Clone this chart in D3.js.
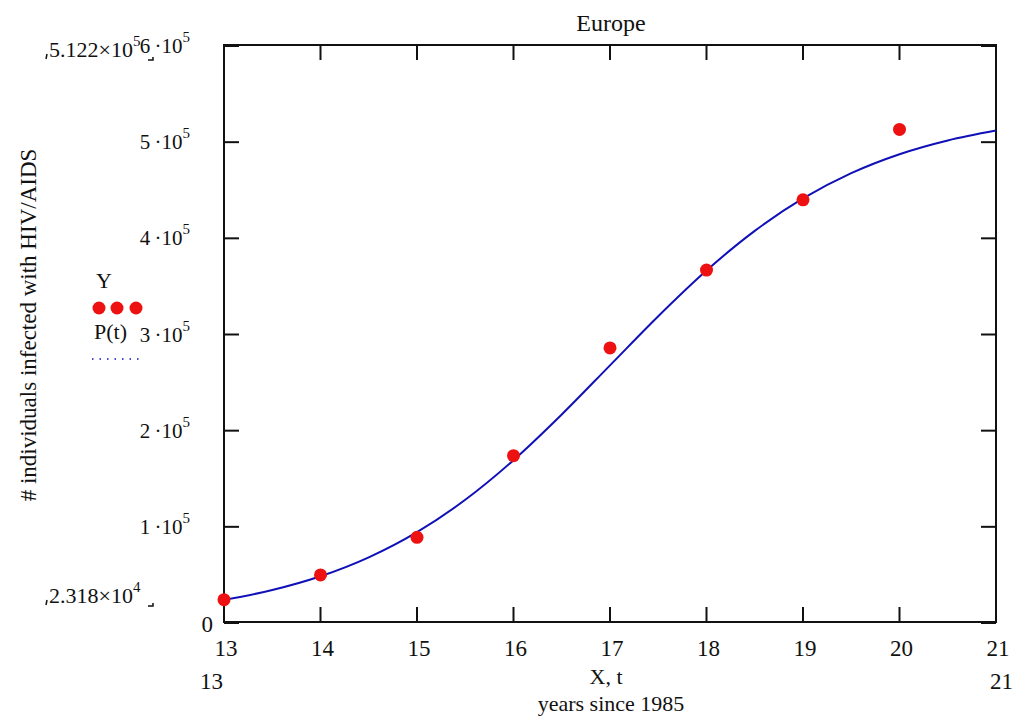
<!DOCTYPE html>
<html><head><meta charset="utf-8">
<script src="https://cdn.jsdelivr.net/npm/d3@7"></script>
<style>body{margin:0;background:#fff}svg{display:block}text{font-family:"Liberation Serif","Times New Roman",serif;fill:#111}</style>
</head><body>
<script>
// Observed data (years since 1985, infected individuals)
const years = [13, 14, 15, 16, 17, 18, 19, 20];
const infected = [23180, 49000, 88000, 173000, 285000, 366000, 439000, 512200];
// Fitted curve P(t) at half-year steps
const curveT = [13, 13.5, 14, 14.5, 15, 15.5, 16, 16.5, 17, 17.5, 18, 18.5, 19, 19.5, 20, 20.5, 21];
const curveP = [23000, 33200, 47500, 67200, 93400, 127100, 168300, 215800, 266900, 318000, 365500, 406700, 440400, 466700, 486400, 500700, 511000];
const xTicks = [13, 14, 15, 16, 17, 18, 19, 20, 21];
const yTicks = [0, 100000, 200000, 300000, 400000, 500000, 600000];
const yTickMant = ["0", "1", "2", "3", "4", "5", "6"];
const title = "Europe";
const yLabel = "# individuals infected with HIV/AIDS";
const xLabel = "X, t";
const xSub = "years since 1985";
const yMaxLabel = ["5.122\u00d710", "5"];
const yMinLabel = ["2.318\u00d710", "4"];
const legendNames = ["Y", "P(t)"];

const W = 1014, H = 723;
const svg = d3.select("body").append("svg").attr("width", W).attr("height", H);
const x = d3.scaleLinear().domain([13, 21]).range([224, 996]);
const y = d3.scaleLinear().domain([0, 600000]).range([622, 45]);
const ink = "#111";

// ticks (inward on all four sides)
const g = svg.append("g");
const tl = 15;
g.selectAll(".tb").data(xTicks).join("line")
  .attr("x1", d => x(d)).attr("x2", d => x(d)).attr("y1", y(0)).attr("y2", y(0) - tl)
  .attr("stroke", ink).attr("stroke-width", 2);
g.selectAll(".tt").data(xTicks).join("line")
  .attr("x1", d => x(d)).attr("x2", d => x(d)).attr("y1", y(600000)).attr("y2", y(600000) + tl)
  .attr("stroke", ink).attr("stroke-width", 2);
g.selectAll(".tlft").data(yTicks).join("line")
  .attr("x1", x(13)).attr("x2", x(13) + tl).attr("y1", d => y(d) + 1).attr("y2", d => y(d) + 1)
  .attr("stroke", ink).attr("stroke-width", 2);
g.selectAll(".trt").data(yTicks).join("line")
  .attr("x1", x(21)).attr("x2", x(21) - tl).attr("y1", d => y(d) + 1).attr("y2", d => y(d) + 1)
  .attr("stroke", ink).attr("stroke-width", 2);
// frame
svg.append("rect").attr("x", x(13)).attr("y", y(600000)).attr("width", x(21) - x(13)).attr("height", y(0) - y(600000))
  .attr("fill", "none").attr("stroke", ink).attr("stroke-width", 2);

// x tick labels
svg.selectAll(".xl").data(xTicks).join("text")
  .attr("x", d => x(d) + 2).attr("y", y(0) + 34).attr("text-anchor", "middle")
  .attr("font-size", 23).text(d => d);
// y tick labels
yTicks.forEach((v, i) => {
  if (v === 0) {
    svg.append("text").attr("x", 213).attr("y", y(0) + 10).attr("text-anchor", "end").attr("font-size", 23).text("0");
  } else {
    const t = svg.append("text").attr("x", 190).attr("y", y(v) + 8).attr("text-anchor", "end").attr("font-size", 21);
    t.append("tspan").text(yTickMant[i] + "\u2009\u00b710");
    t.append("tspan").attr("dy", -11).attr("font-size", 15).text("5");
  }
});

// bound labels
function boundLabel(lab, by) {
  const t = svg.append("text").attr("x", 49).attr("y", by).attr("font-size", 22);
  t.append("tspan").text(lab[0]);
  t.append("tspan").attr("dy", -11).attr("font-size", 15).text(lab[1]);
  svg.append("path").attr("d", `M47,${by - 3}L46,${by + 2}`).attr("stroke", ink).attr("stroke-width", 1.5);
  svg.append("path").attr("d", `M148,${by + 3}L153,${by + 3}L153,${by}`).attr("fill", "none").attr("stroke", ink).attr("stroke-width", 1.5);
}
boundLabel(yMaxLabel, 57);
boundLabel(yMinLabel, 603);

// curve
const line = d3.line().x((d, i) => x(curveT[i])).y(d => y(d)).curve(d3.curveMonotoneX);
svg.append("path").attr("d", line(curveP)).attr("fill", "none").attr("stroke", "#1010b8").attr("stroke-width", 2);

// points
svg.selectAll(".pt").data(infected).join("circle")
  .attr("cx", (d, i) => x(years[i])).attr("cy", d => y(d)).attr("r", 6.5).attr("fill", "#ee1111");

// texts
svg.append("text").attr("x", 611).attr("y", 31).attr("text-anchor", "middle").attr("font-size", 24).text(title);
svg.append("text").attr("x", 606).attr("y", 684).attr("text-anchor", "middle").attr("font-size", 22).text(xLabel);
svg.append("text").attr("x", 611).attr("y", 711).attr("text-anchor", "middle").attr("font-size", 22).text(xSub);
svg.append("text").attr("x", 223).attr("y", 689).attr("text-anchor", "end").attr("font-size", 23).text("13");
svg.append("text").attr("x", 990).attr("y", 689).attr("text-anchor", "start").attr("font-size", 23).text("21");
svg.append("text").attr("transform", "translate(36,325) rotate(-90)").attr("text-anchor", "middle").attr("font-size", 23).text(yLabel);

// legend
svg.append("text").attr("x", 96).attr("y", 288).attr("font-size", 22).text(legendNames[0]);
svg.selectAll(".lg").data([99, 117, 136]).join("circle").attr("cx", d => d).attr("cy", 308).attr("r", 6.5).attr("fill", "#ee1111");
svg.append("text").attr("x", 94).attr("y", 339).attr("font-size", 22).text(legendNames[1]);
svg.append("line").attr("x1", 92).attr("x2", 143).attr("y1", 359).attr("y2", 359)
  .attr("stroke", "#1010b8").attr("stroke-width", 1.5).attr("stroke-dasharray", "1.5,6");
</script>
</body></html>
